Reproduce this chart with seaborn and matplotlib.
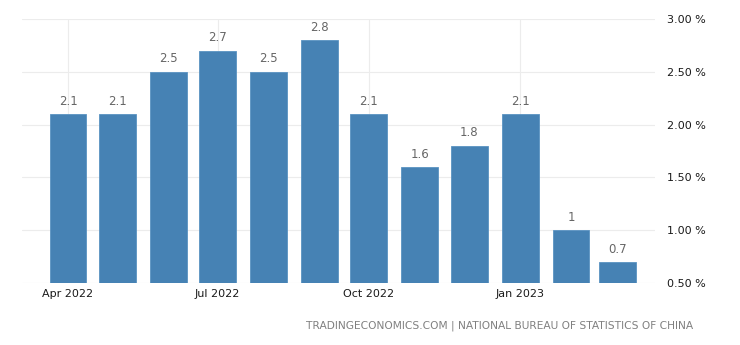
import pandas as pd
import numpy as np
import matplotlib
matplotlib.use("Agg")
import matplotlib.pyplot as plt
import matplotlib.dates as mdates
import seaborn as sns

months = ["2022-04", "2022-05", "2022-06", "2022-07", "2022-08", "2022-09",
          "2022-10", "2022-11", "2022-12", "2023-01", "2023-02", "2023-03"]
cpi = [2.1, 2.1, 2.5, 2.7, 2.5, 2.8, 2.1, 1.6, 1.8, 2.1, 1.0, 0.7]
value_labels = ["2.1", "2.1", "2.5", "2.7", "2.5", "2.8", "2.1", "1.6", "1.8", "2.1", "1", "0.7"]
tick_months = ["2022-04", "2022-07", "2022-10", "2023-01"]
tick_labels = ["Apr 2022", "Jul 2022", "Oct 2022", "Jan 2023"]
y_ticks = [0.5, 1.0, 1.5, 2.0, 2.5, 3.0]
source = "TRADINGECONOMICS.COM | NATIONAL BUREAU OF STATISTICS OF CHINA"

sns.set_theme(style="white")
plt.rcParams["font.family"] = ["DejaVu Sans"]

base = 0.5
df = pd.DataFrame({
    "date": mdates.date2num(pd.to_datetime(months)),
    "height": np.array(cpi) - base,
})

fig = plt.figure(figsize=(7.4, 3.45), dpi=100)
ax = fig.add_axes([0.0297, 0.1797, 0.8553, 0.7652])

sns.barplot(data=df, x="date", y="height", native_scale=True, color="#4682b4",
            saturation=1, width=0.8, bottom=base, ax=ax, zorder=3,
            edgecolor="#5a93c2", linewidth=0.6)

for d, v, lab in zip(df["date"], cpi, value_labels):
    ax.text(d, v + 0.06, lab, ha="center", va="bottom", fontsize=8.5, color="#666666")

ax.set_xlim(mdates.date2num(pd.Timestamp("2022-03-04")),
            mdates.date2num(pd.Timestamp("2023-03-24")))
ax.set_ylim(0.5, 3.0)
ax.set_xticks(mdates.date2num(pd.to_datetime(tick_months)))
ax.set_xticklabels(tick_labels)
ax.set_yticks(y_ticks)
ax.set_yticklabels([f"{t:.2f} %" for t in y_ticks])
ax.yaxis.tick_right()
ax.tick_params(axis="y", length=0, pad=9, labelsize=8, labelcolor="#1a1a1a")
ax.tick_params(axis="x", length=0, pad=4, labelsize=8, labelcolor="#1a1a1a")
ax.set_xlabel("")
ax.set_ylabel("")
ax.grid(True, color="#ececec", linewidth=0.8, zorder=0)
for s in ax.spines.values():
    s.set_visible(False)

fig.text(0.937, 0.04, source, ha="right", va="bottom", fontsize=7.7, color="#808080")

fig.savefig("out.png", dpi=100, facecolor="white")
